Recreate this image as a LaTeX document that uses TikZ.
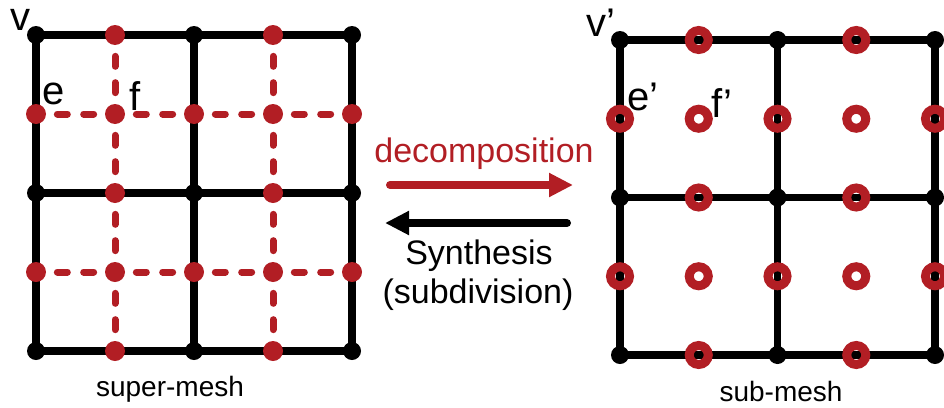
\documentclass[tikz,border=0pt]{standalone}
\usepackage{fontspec}
\setmainfont{Liberation Sans}
\usepackage{xcolor}
\usetikzlibrary{arrows.meta}
\definecolor{meshred}{RGB}{178,30,36}

\begin{document}
\begin{tikzpicture}[
    x=0.75pt, y=-0.75pt,
    vertex/.style={circle, fill=black, inner sep=0pt, minimum size=13.5pt},
    reddot/.style={circle, fill=meshred, inner sep=0pt, minimum size=15pt},
    redring/.style={circle, draw=meshred, line width=6.75pt, inner sep=0pt, minimum size=14.25pt},
    meshline/.style={line width=5.5pt},
    dualline/.style={meshred, line width=5.25pt, line cap=round,
        dash pattern=on 7.5pt off 12.25pt, dash phase=3.75pt},
    bigarrow/.style={line width=6pt, line cap=round, -{Triangle[length=18pt, width=17pt]}},
    letter/.style={font=\fontsize{30}{32}\selectfont, inner sep=0pt, anchor=base west},
    caption/.style={font=\fontsize{21}{24}\selectfont, inner sep=0pt},
    arrowtext/.style={font=\fontsize{25.5}{30}\selectfont, inner sep=0pt}
]
\useasboundingbox (0,0) rectangle (944,407);

% super-mesh lattice
\foreach \i in {0,...,4}
  \foreach \j in {0,...,4}
    \coordinate (l-\i-\j) at ({36+79*\i}, {35+79*\j});
% sub-mesh lattice
\foreach \i in {0,...,4}
  \foreach \j in {0,...,4}
    \coordinate (r-\i-\j) at ({620+78.75*\i}, {40+78.75*\j});

% black edges
\foreach \k in {0,2,4} {
  \draw[meshline] (l-0-\k) -- (l-4-\k);
  \draw[meshline] (l-\k-0) -- (l-\k-4);
  \draw[meshline] (r-0-\k) -- (r-4-\k);
  \draw[meshline] (r-\k-0) -- (r-\k-4);
}
% dual (dashed) edges
\foreach \k in {1,3} {
  \draw[dualline] (l-0-\k) -- (l-4-\k);
  \draw[dualline] (l-\k-0) -- (l-\k-4);
}

% dots
\foreach \i in {0,...,4}
  \foreach \j in {0,...,4} {
    \pgfmathtruncatemacro{\ev}{(mod(\i,2)==0)&&(mod(\j,2)==0)}
    \ifnum\ev=1
      \node[vertex] at (l-\i-\j) {};
      \node[vertex] at (r-\i-\j) {};
    \else
      \node[reddot] at (l-\i-\j) {};
      \node[redring] at (r-\i-\j) {};
    \fi
  }

% labels
\node[letter] (lv) at (10,30) {v};
\node[letter] (le) at (42,104) {e};
\node[letter] (lf) at (129,110) {f};
\node[letter] (rv) at (586,36) {v’};
\node[letter] (re) at (627,110) {e’};
\node[letter] (rf) at (711,117) {f’};

\node[caption] (supcap) at (170,389) {super-mesh};
\node[caption] (subcap) at (781,391) {sub-mesh};

% arrows
\coordinate (decstart) at (390,185);
\coordinate (decend) at (573,185);
\coordinate (synstart) at (567,223);
\coordinate (synend) at (385,223);
\draw[bigarrow, meshred] (decstart) -- (decend);
\draw[bigarrow] (synstart) -- (synend);

\node[arrowtext, text=meshred] (dec) at (484,154) {decomposition};
\node[arrowtext] (syn) at (479,256) {Synthesis};
\node[arrowtext] (subdiv) at (478,295) {(subdivision)};
\end{tikzpicture}
\end{document}
